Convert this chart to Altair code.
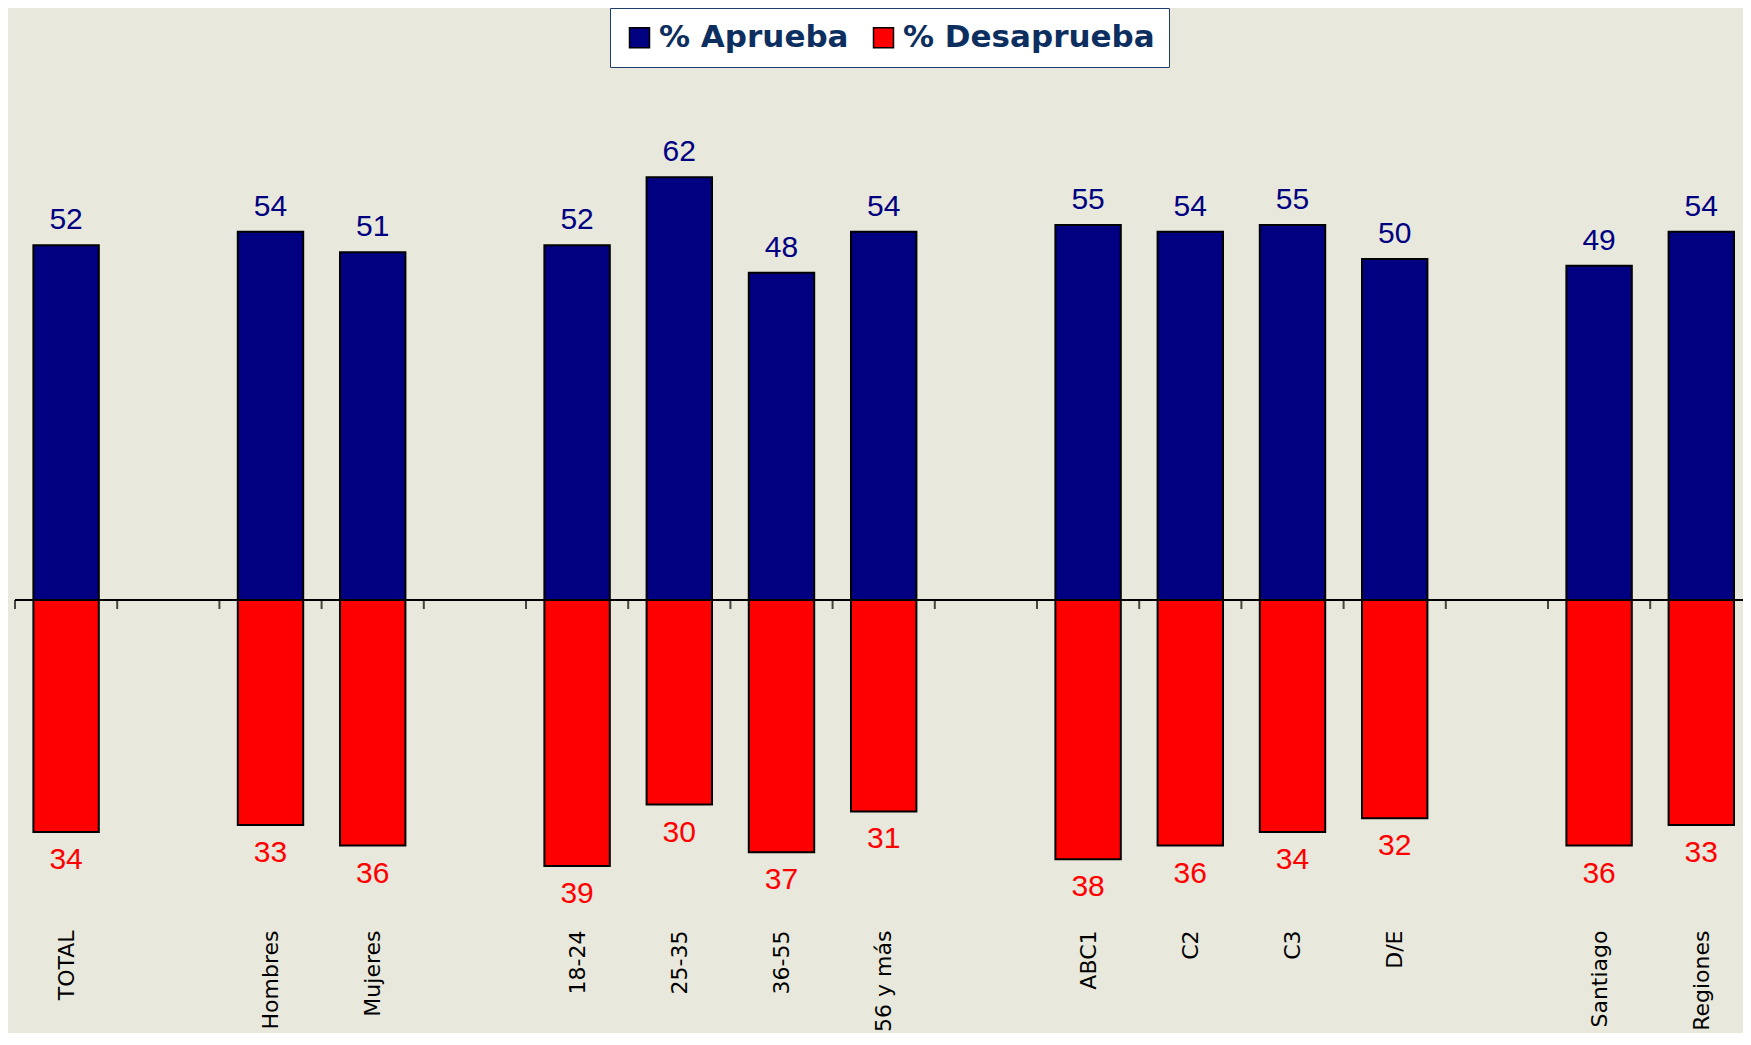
import json
import altair as alt
import pandas as pd

# ---------------- data ----------------
groups = [
    ["TOTAL"],
    ["Hombres", "Mujeres"],
    ["18-24", "25-35", "36-55", "56 y más"],
    ["ABC1", "C2", "C3", "D/E"],
    ["Santiago", "Regiones"],
]
aprueba = [52, 54, 51, 52, 62, 48, 54, 55, 54, 55, 50, 49, 54]
desaprueba = [34, 33, 36, 39, 30, 37, 31, 38, 36, 34, 32, 36, 33]
series = ["% Aprueba", "% Desaprueba"]
colors = ["#000080", "#FF0000"]

# slots: one empty slot between groups
slot_labels = []
for gi, g in enumerate(groups):
    if gi > 0:
        slot_labels.append("")
    slot_labels.extend(g)
categories = [c for g in groups for c in g]
positions = [slot_labels.index(c) for c in categories]

rows = []
for c, p, a, d in zip(categories, positions, aprueba, desaprueba):
    rows.append({"cat": c, "pos": p, "series": series[0], "value": a, "signed": a})
    rows.append({"cat": c, "pos": p, "series": series[1], "value": d, "signed": -d})
df = pd.DataFrame(rows)

# ---------------- layout ----------------
PAD_L, PAD_T, PAD_B = 7, 0, 108
W, H = 1728, 917
SLOT_PX = 102.2
Y_MIN, Y_MAX = -47.65, 86.8
HALF_BAR = 0.32

x_max = -0.5 + W / SLOT_PX
xscale = alt.Scale(domain=[-0.5, x_max], nice=False, zero=False)
yscale = alt.Scale(domain=[Y_MIN, Y_MAX], nice=False, zero=False)

xaxis = alt.Axis(
    title=None,
    values=list(range(len(slot_labels))),
    labelExpr=json.dumps(slot_labels, ensure_ascii=False) + "[datum.value]",
    labelAngle=-90,
    labelAlign="right",
    labelBaseline="middle",
    labelPadding=5,
    labelFont="DejaVu Sans",
    labelFontSize=22,
    labelColor="black",
    labelOverlap=False,
    labelFlush=False,
    labelBound=False,
    labelLimit=0,
    domain=False,
    ticks=False,
    grid=False,
)

legend = alt.Legend(
    title=None,
    orient="none",
    legendX=595,
    legendY=0,
    direction="horizontal",
    symbolType="square",
    symbolSize=400,
    symbolStrokeColor="black",
    symbolStrokeWidth=1.5,
    symbolOpacity=1,
    labelFont="DejaVu Sans",
    labelFontSize=31,
    labelFontWeight="bold",
    labelColor="#0D2F5F",
    labelOffset=4,
    labelLimit=500,
    columnPadding=19,
    padding=14,
    fillColor="white",
    strokeColor="#1F3F6F",
)

base = alt.Chart(df)

bars = (
    base.transform_calculate(x1=f"datum.pos - {HALF_BAR}", x2=f"datum.pos + {HALF_BAR}")
    .mark_bar(stroke="black", strokeWidth=2)
    .encode(
        x=alt.X("x1:Q", scale=xscale, axis=xaxis),
        x2="x2:Q",
        y=alt.Y("signed:Q", scale=yscale, axis=None),
        y2=alt.datum(0),
        color=alt.Color(
            "series:N",
            scale=alt.Scale(domain=series, range=colors),
            legend=legend,
        ),
    )
)

zero_df = pd.DataFrame({"zero": [0]})
zero_line = (
    alt.Chart(zero_df)
    .mark_rule(color="black", strokeWidth=2)
    .encode(y=alt.Y("zero:Q", scale=yscale, axis=None))
)

boundaries = [i - 0.5 for i in range(len(slot_labels) + 1) if i - 0.5 <= x_max]
tick_df = pd.DataFrame({"b": boundaries, "zero": [0] * len(boundaries)})
ticks = (
    alt.Chart(tick_df)
    .mark_tick(orient="vertical", size=9, thickness=2, color="black", yOffset=4.5)
    .encode(
        x=alt.X("b:Q", scale=xscale, axis=xaxis),
        y=alt.Y("zero:Q", scale=yscale, axis=None),
    )
)

pos_text = (
    base.transform_filter("datum.signed > 0")
    .mark_text(font="Liberation Sans", fontSize=30, baseline="alphabetic", dy=-16, color=colors[0])
    .encode(
        x=alt.X("pos:Q", scale=xscale, axis=xaxis),
        y=alt.Y("signed:Q", scale=yscale, axis=None),
        text="value:Q",
    )
)
neg_text = (
    base.transform_filter("datum.signed < 0")
    .mark_text(font="Liberation Sans", fontSize=30, baseline="alphabetic", dy=37, color=colors[1])
    .encode(
        x=alt.X("pos:Q", scale=xscale, axis=xaxis),
        y=alt.Y("signed:Q", scale=yscale, axis=None),
        text="value:Q",
    )
)

chart = (
    alt.layer(zero_line, ticks, bars, pos_text, neg_text)
    .properties(
        width=W,
        height=H,
        autosize=alt.AutoSizeParams(type="none"),
        padding={"left": PAD_L, "top": PAD_T, "right": 0, "bottom": PAD_B},
        background="#E8E8DC",
    )
    .configure_view(stroke=None)
)

chart.save("out.html", embed_options={"renderer": "svg", "actions": False})
